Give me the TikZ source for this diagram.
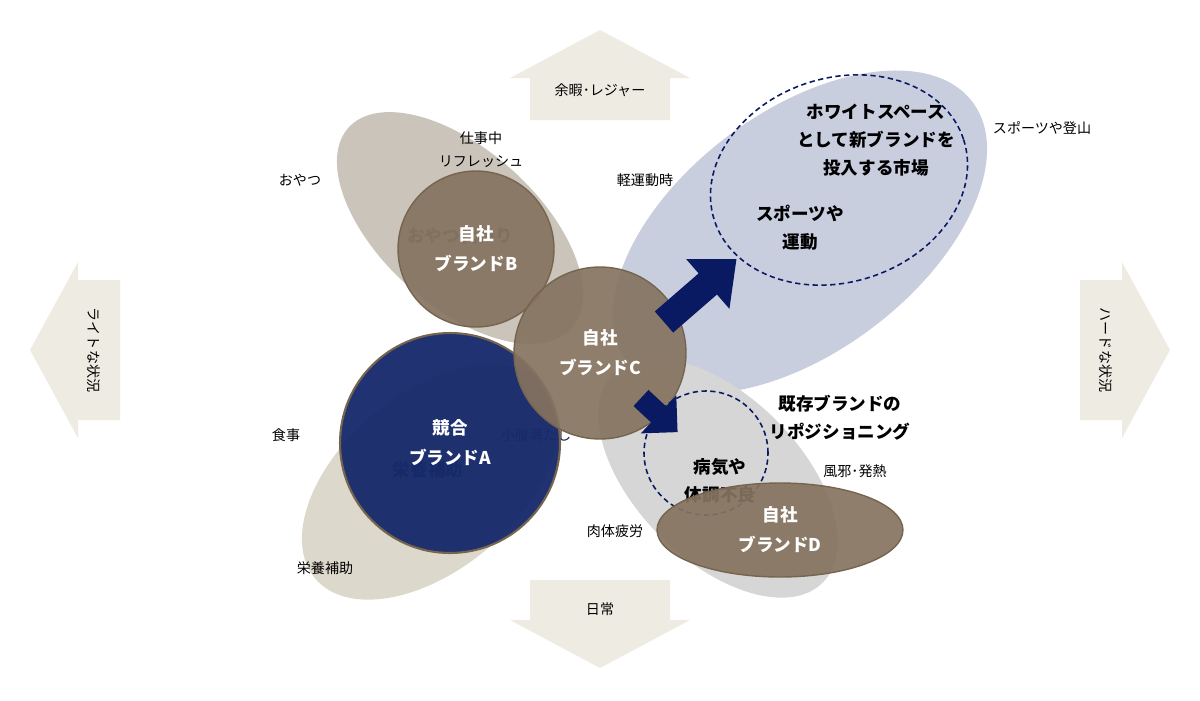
\documentclass[tikz,border=0pt]{standalone}
\usepackage{fontspec}
\setmainfont{Noto Sans CJK JP}
\usetikzlibrary{shapes.geometric}
\definecolor{bgarrow}{HTML}{EEEBE3}
\definecolor{brandtan}{HTML}{85735F}
\definecolor{brandedge}{HTML}{75654F}
\definecolor{rivalnavy}{HTML}{172A6B}
\definecolor{pushnavy}{HTML}{0A1A62}
\definecolor{sportblue}{HTML}{C9CEDF}
\definecolor{snackgray}{HTML}{CBC4BB}
\definecolor{mealbeige}{HTML}{DDD8CC}
\definecolor{sickgray}{HTML}{D6D6D6}
\begin{document}
\begin{tikzpicture}[x=0.02cm,y=-0.02cm,font=\fontsize{8}{10}\selectfont,
  lbl/.style={align=center,inner sep=1pt},
  hot/.style={lbl,font=\fontsize{10}{16}\selectfont\bfseries},
  brand/.style={circle,fill=brandtan,fill opacity=0.92,draw=brandedge,line width=0.8pt,text=white,text opacity=1,align=center,font=\fontsize{10}{17}\selectfont\bfseries},
  market/.style={line width=0.9pt,draw=pushnavy,dash pattern=on 3pt off 2pt}]
\useasboundingbox (0,0) rectangle (1200,700);
% axes
\fill[bgarrow] (530,120) -- (530,78) -- (510,78) -- (600,30) -- (690,78) -- (670,78) -- (670,120) -- cycle;
\fill[bgarrow] (530,580) -- (530,620) -- (510,620) -- (600,668) -- (690,620) -- (670,620) -- (670,580) -- cycle;
\fill[bgarrow] (120,280) -- (78,280) -- (78,262) -- (30,350) -- (78,438) -- (78,420) -- (120,420) -- cycle;
\fill[bgarrow] (1080,280) -- (1122,280) -- (1122,262) -- (1170,350) -- (1122,438) -- (1122,420) -- (1080,420) -- cycle;
\node[lbl] (leisure) at (600,90) {余暇･レジャー};
\node[lbl] (daily) at (600,609) {日常};
\node[lbl,rotate=-90] (light) at (94,350) {ライトな状況};
\node[lbl,rotate=-90] (hard) at (1106,350) {ハードな状況};
% scenes
\fill[sportblue,shift={(800,232)},rotate=37] (0,0) ellipse [x radius=216,y radius=120];
\fill[snackgray,shift={(460,228)},rotate=-42] (0,0) ellipse [x radius=150,y radius=78];
\fill[mealbeige,shift={(430,482)},rotate=40] (0,0) ellipse [x radius=150,y radius=88];
\fill[sickgray,shift={(718,478)},rotate=-45] (0,0) ellipse [x radius=148,y radius=82];
\draw[market,shift={(839,180)},rotate=18] (0,0) ellipse [x radius=131,y radius=102];
\node[lbl,font=\fontsize{10}{12}\selectfont\bfseries,text=black!65] (snack) at (460,236) {おやつ代わり};
\node[lbl,font=\fontsize{10}{12}\selectfont\bfseries,text=rivalnavy!70!black] (supp) at (428,470) {栄養補助};
\node[lbl,text=rivalnavy!80!black] (hunger) at (536,435) {小腹満たし};
% brands
\node[brand,minimum size=3.12cm] (brandB) at (476,249) {自社\\ブランドB};
\node[brand,fill=rivalnavy,fill opacity=0.96,minimum size=4.4cm,line width=1.2pt] (rivalA) at (450,443) {競合\\ブランドA};
\node[brand,minimum size=3.44cm] (brandC) at (600,353) {自社\\ブランドC};
\node[hot] (sick) at (720,481) {病気や\\体調不良};
\node[circle,market,minimum size=2.48cm] (repos) at (706,453) {};
\node[brand,ellipse,minimum width=4.92cm,minimum height=1.88cm] (brandD) at (780,530) {自社\\ブランドD};
% moves
\begin{scope}[shift={(664,322)},rotate=41]
\fill[pushnavy] (0,14) -- (58,14) -- (58,33) -- (96,0) -- (58,-33) -- (58,-14) -- (0,-14) -- cycle;
\end{scope}
\begin{scope}[shift={(641,398)},rotate=-43]
\fill[pushnavy] (0,11) -- (24,11) -- (24,26) -- (50,0) -- (24,-26) -- (24,-11) -- (0,-11) -- cycle;
\end{scope}
% texts
\node[hot] (white) at (876,140) {ホワイトスペース\\として新ブランドを\\投入する市場};
\node[hot] (sport) at (800,228) {スポーツや\\運動};
\node[hot] (reposition) at (840,418) {既存ブランドの\\リポジショニング};
\node[lbl] (climb) at (1042,128) {スポーツや登山};
\node[lbl] (jog) at (645,180) {軽運動時};
\node[lbl,font=\fontsize{8}{13}\selectfont] (work) at (481,150) {仕事中\\リフレッシュ};
\node[lbl] (oyatsu) at (300,180) {おやつ};
\node[lbl] (meal) at (286,435) {食事};
\node[lbl] (nutri) at (325,568) {栄養補助};
\node[lbl] (tired) at (615,531) {肉体疲労};
\node[lbl] (cold) at (855,471) {風邪･発熱};
\end{tikzpicture}
\end{document}
